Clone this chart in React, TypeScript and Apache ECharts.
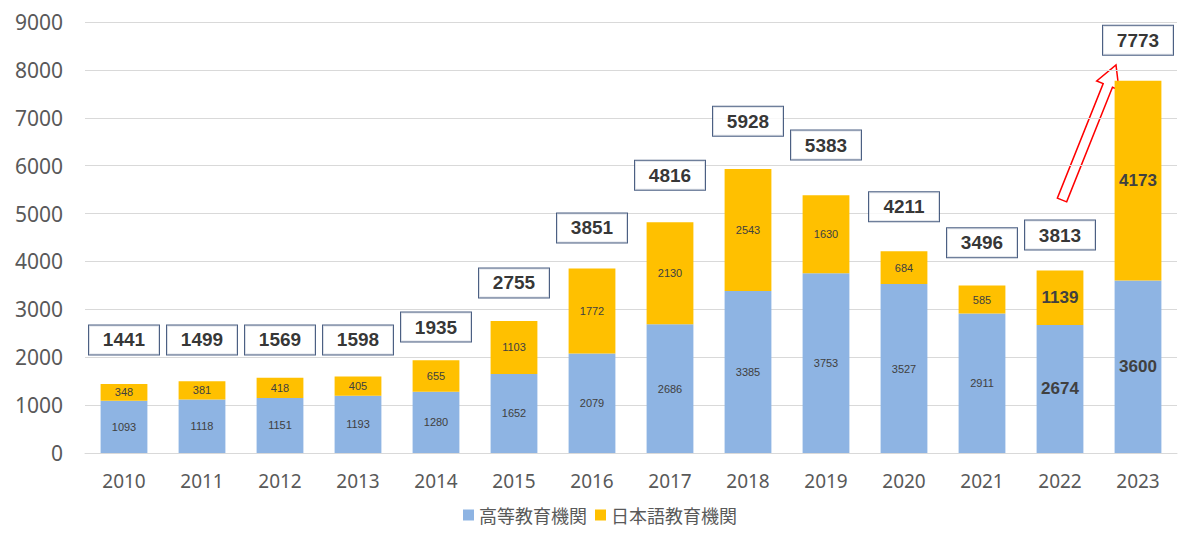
import React, { useEffect, useRef } from 'react';
import * as echarts from 'echarts';

const years = ['2010', '2011', '2012', '2013', '2014', '2015', '2016', '2017', '2018', '2019', '2020', '2021', '2022', '2023'];
const higherEdu = [1093, 1118, 1151, 1193, 1280, 1652, 2079, 2686, 3385, 3753, 3527, 2911, 2674, 3600];
const japaneseSchool = [348, 381, 418, 405, 655, 1103, 1772, 2130, 2543, 1630, 684, 585, 1139, 4173];
const totals = [1441, 1499, 1569, 1598, 1935, 2755, 3851, 4816, 5928, 5383, 4211, 3496, 3813, 7773];
// where each total box sits, in axis units
const totalBoxY = [2360, 2360, 2360, 2360, 2630, 3550, 4700, 5800, 6930, 6430, 5140, 4390, 4550, 8620];
const bigLabelYears = ['2022', '2023'];

function arrowPoints(x1: number, y1: number, x2: number, y2: number) {
  const dx = x2 - x1, dy = y2 - y1;
  const len = Math.sqrt(dx * dx + dy * dy);
  const ux = dx / len, uy = dy / len;
  const px = -uy, py = ux;
  const head = 22, sw = 5, hw = 12;
  const bx = x2 - ux * head, by = y2 - uy * head;
  return [
    [x1 + px * sw, y1 + py * sw],
    [bx + px * sw, by + py * sw],
    [bx + px * hw, by + py * hw],
    [x2, y2],
    [bx - px * hw, by - py * hw],
    [bx - px * sw, by - py * sw],
    [x1 - px * sw, y1 - py * sw],
  ];
}

const App: React.FC = () => {
  const chartRef = useRef<HTMLDivElement>(null);

  useEffect(() => {
    if (!chartRef.current) return;
    const myChart = echarts.init(chartRef.current, null, { renderer: 'svg' });
    const inner = (vals: number[]) =>
      vals.map((v, i) =>
        bigLabelYears.includes(years[i])
          ? { value: v, label: { fontSize: 17, fontWeight: 'bold', color: '#404040' } }
          : v
      );
    const option = {
      animation: false,
      grid: { left: 77, right: 15, top: 14, bottom: 84 },
      legend: {
        bottom: 8,
        itemWidth: 11,
        itemHeight: 11,
        icon: 'rect',
        textStyle: { fontSize: 18, color: '#595959', fontFamily: 'Noto Sans CJK JP' },
        data: ['高等教育機関', '日本語教育機関'],
      },
      xAxis: {
        type: 'category',
        data: years,
        axisTick: { show: false },
        axisLine: { lineStyle: { color: '#d9d9d9' } },
        axisLabel: { fontSize: 19, color: '#595959', margin: 18, fontFamily: 'Noto Sans' },
      },
      yAxis: {
        type: 'value',
        min: 0,
        max: 9000,
        interval: 1000,
        splitLine: { lineStyle: { color: '#d9d9d9' } },
        axisLabel: { fontSize: 21, color: '#595959', margin: 22, fontFamily: 'Noto Sans', formatter: (v: number) => String(v) },
      },
      series: [
        {
          name: '高等教育機関',
          type: 'bar',
          stack: 'total',
          barWidth: '60%',
          itemStyle: { color: '#8EB4E3' },
          label: { show: true, position: 'inside', fontSize: 11, color: '#404040' },
          data: inner(higherEdu),
        },
        {
          name: '日本語教育機関',
          type: 'bar',
          stack: 'total',
          itemStyle: { color: '#FFC000' },
          label: { show: true, position: 'inside', fontSize: 11, color: '#404040' },
          data: inner(japaneseSchool),
        },
        {
          name: 'total',
          type: 'scatter',
          symbolSize: 0,
          silent: true,
          label: {
            show: true,
            position: 'inside',
            formatter: (p: any) => String(totals[p.dataIndex]),
            fontSize: 19,
            fontWeight: 'bold',
            color: '#000',
            backgroundColor: '#fff',
            borderColor: '#1F3864',
            borderWidth: 1,
            width: 54,
            align: 'center',
            padding: [5, 8],
          },
          data: years.map((y, i) => [y, totalBoxY[i]]),
        },
      ],
      graphic: [
        {
          type: 'polygon',
          shape: { points: arrowPoints(1054, 192, 1108, 57) },
          style: { fill: '#fff', stroke: '#FF0000', lineWidth: 1.5 },
        },
      ],
    };
    myChart.setOption(option as any);
    const resizeHandler = () => myChart.resize();
    window.addEventListener('resize', resizeHandler);
    return () => {
      window.removeEventListener('resize', resizeHandler);
      myChart.dispose();
    };
  }, []);

  return <div ref={chartRef} style={{ width: 1184, height: 529 }}></div>;
};

export default App;
